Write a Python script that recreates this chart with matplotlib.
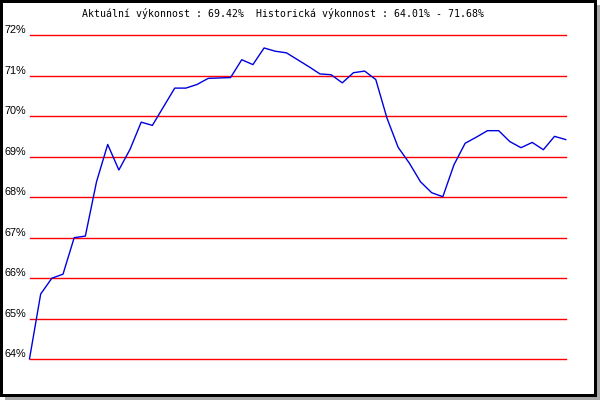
import matplotlib
matplotlib.use("Agg")
import matplotlib.pyplot as plt
from matplotlib.patches import Rectangle
import matplotlib.transforms as mtransforms

values = [64.01, 65.61, 66.00, 66.10, 67.00, 67.04, 68.38, 69.30, 68.67, 69.18,
          69.85, 69.77, 70.23, 70.69, 70.69, 70.78, 70.93, 70.94, 70.95, 71.39,
          71.27, 71.68, 71.60, 71.56, 71.39, 71.22, 71.04, 71.02, 70.82, 71.07,
          71.11, 70.90, 69.95, 69.23, 68.84, 68.38, 68.11, 68.01, 68.80, 69.33,
          69.48, 69.64, 69.64, 69.37, 69.22, 69.35, 69.17, 69.50, 69.42]
tick_values = [64, 65, 66, 67, 68, 69, 70, 71, 72]
tick_labels = ["64%", "65%", "66%", "67%", "68%", "69%", "70%", "71%", "72%"]
title = "Aktuální výkonnost : 69.42%  Historická výkonnost : 64.01% - 71.68%"

W, H = 600, 400
fig = plt.figure(figsize=(6, 4), dpi=100)
fig.patch.set_facecolor("white")

# shadow and frame
fig.patches.append(Rectangle((597 / W, 0), 3 / W, (H - 5) / H, transform=fig.transFigure,
                             facecolor="#a8a8a8", edgecolor="none"))
fig.patches.append(Rectangle((5 / W, 0), (W - 5) / W, 3 / H, transform=fig.transFigure,
                             facecolor="#a8a8a8", edgecolor="none"))
for (x, y, w, h) in [(0, 0, 3, 397), (0, 394, 597, 3), (594, 0, 3, 397), (0, 0, 597, 3)]:
    # (x, y) in pixel from top-left
    fig.patches.append(Rectangle((x / W, (H - y - h) / H), w / W, h / H,
                                 transform=fig.transFigure, facecolor="black",
                                 edgecolor="none"))

left, right = 29.5 / W, 565.7 / W
bottom, top = (H - 359.3) / H, (H - 35.0) / H
ax = fig.add_axes([left, bottom, right - left, top - bottom])
ax.set_xlim(0, len(values) - 1)
ax.set_ylim(64, 72)
ax.axis("off")

for tv in tick_values:
    ax.axhline(tv, color="#ff0000", lw=1.0, zorder=1, clip_on=False)

ax.plot(range(len(values)), values, color="#0000dd", lw=1.0, zorder=3, clip_on=False)

trans = mtransforms.blended_transform_factory(fig.transFigure, ax.transData)
trans = mtransforms.offset_copy(trans, fig=fig, x=0, y=2, units="dots")
for tv, tl in zip(tick_values, tick_labels):
    ax.text(26.5 / W, tv, tl, transform=trans, ha="right", va="baseline",
            fontsize=7.8, family="Liberation Sans", color="black")

fig.text(283 / W, 1 - 17.3 / H, title, ha="center", va="baseline",
         fontsize=7.15, family="DejaVu Sans Mono", color="black")

fig.savefig("out.png", dpi=100)
